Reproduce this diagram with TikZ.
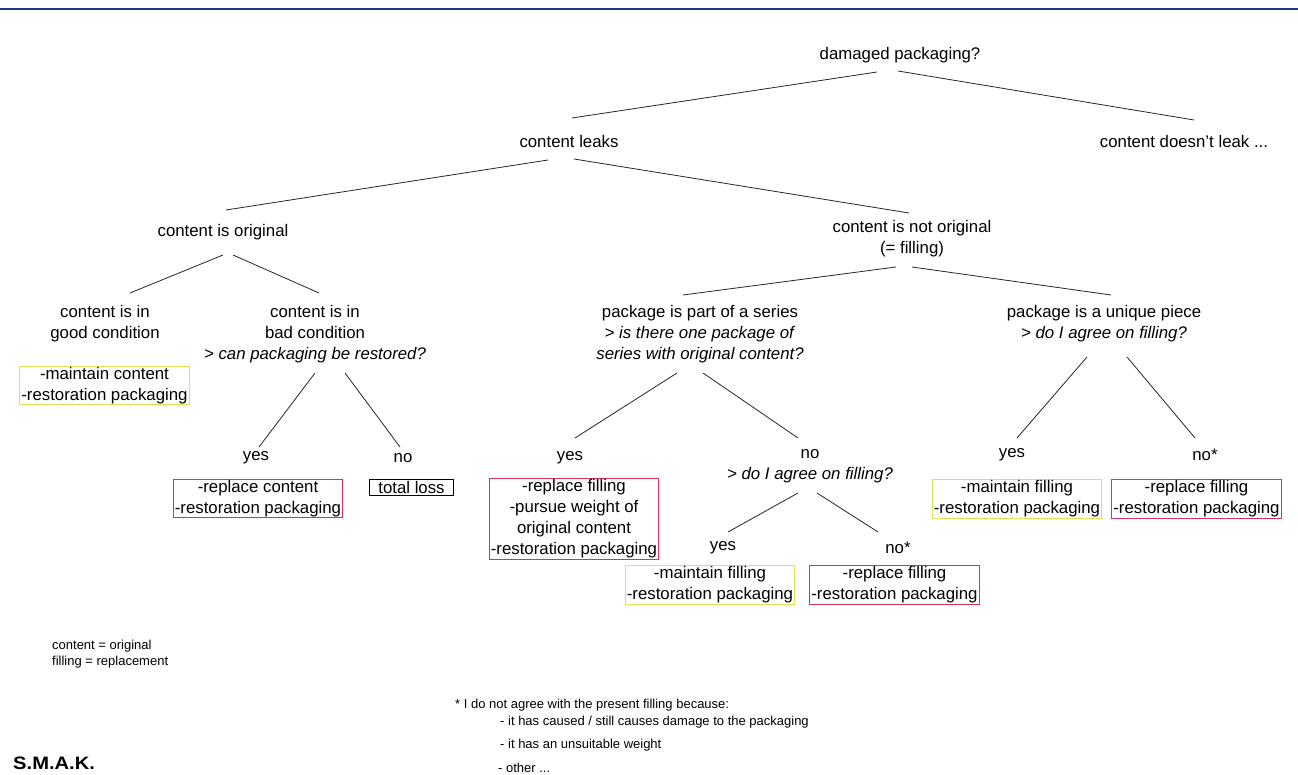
\documentclass[tikz,border=0pt]{standalone}
\usepackage{fontspec}
\setmainfont{Liberation Sans}
\newfontfamily\smakfont[FakeStretch=1.12]{Liberation Sans}
\definecolor{topblue}{RGB}{32,52,135}
\definecolor{keepyellow}{RGB}{226,226,80}
\definecolor{redoline}{RGB}{212,52,92}

\begin{document}
\begin{tikzpicture}[x=1pt,y=-1pt,
    txt/.style={align=center,inner sep=1pt,font=\fontsize{16.8}{21}\selectfont},
    keep/.style={txt,draw=keepyellow,line width=0.9pt,inner xsep=1.5pt},
    redo/.style={txt,draw=redoline,line width=0.9pt,inner xsep=1.5pt},
    lossbox/.style={txt,draw=black,line width=0.9pt,inner xsep=9pt,inner ysep=1.5pt},
    edge/.style={draw=black!85,line width=0.8pt},
    note/.style={anchor=west,align=left,inner sep=0pt,font=\fontsize{13}{16}\selectfont}]

  \useasboundingbox (0,0) rectangle (1298,775);
  \fill[white] (0,0) rectangle (1298,775);
  \draw[topblue,line width=2pt] (0,9) -- (1298,9); % header rule

  % questions
  \node[txt] (dam) at (900,55) {damaged packaging?};
  \node[txt] (leaks) at (569,141) {content leaks};
  \node[txt] (noleak) at (1184,141) {content doesn't leak ...};
  \node[txt] (orig) at (223,232) {content is original};
  \node[txt] (notorig) at (912,238.5) {content is not original\\(= filling)};
  \node[txt] (good) at (105,324) {content is in\\good condition};
  \node[txt] (bad) at (315,334) {content is in\\bad condition\\\textit{> can packaging be restored?}};
  \node[txt] (series) at (700,334) {package is part of a series\\\textit{> is there one package of}\\\textit{series with original content?}};
  \node[txt] (unique) at (1104,324) {package is a unique piece\\\textit{> do I agree on filling?}};

  % answers
  \node[txt] (byes) at (256,458) {yes};
  \node[txt] (bno) at (403,458) {no};
  \node[txt] (syes) at (570,458) {yes};
  \node[txt] (sno) at (810,466) {no\\\textit{> do I agree on filling?}};
  \node[txt] (ayes) at (723,548) {yes};
  \node[txt] (ano) at (898,548) {no*};
  \node[txt] (uyes) at (1012,455) {yes};
  \node[txt] (uno) at (1205,455) {no*};

  % measures
  \node[keep] (keepa) at (104.5,385.5) {-maintain content\\-restoration packaging};
  \node[redo] (repa) at (258,498.5) {-replace content\\-restoration packaging};
  \node[lossbox] (loss) at (411.5,487.5) {total loss};
  \node[redo] (repb) at (574,519) {-replace filling\\-pursue weight of\\original content\\-restoration packaging};
  \node[keep] (keepb) at (710,585) {-maintain filling\\-restoration packaging};
  \node[redo] (repc) at (894.5,585) {-replace filling\\-restoration packaging};
  \node[keep] (keepc) at (1017,499) {-maintain filling\\-restoration packaging};
  \node[redo] (repd) at (1196.5,499) {-replace filling\\-restoration packaging};

  % branches
  \draw[edge] ([shift={(-23,17)}]dam.center) -- ([shift={(3,-23)}]leaks.center);
  \draw[edge] ([shift={(-2,16)}]dam.center) -- ([shift={(10,-21)}]noleak.center);
  \draw[edge] ([shift={(-21,19)}]leaks.center) -- ([shift={(3,-22)}]orig.center);
  \draw[edge] ([shift={(5,18)}]leaks.center) -- ([shift={(-3,-25.5)}]notorig.center);
  \draw[edge] ([shift={(0,23)}]orig.center) -- ([shift={(25,-31)}]good.center);
  \draw[edge] ([shift={(10,23)}]orig.center) -- ([shift={(4,-41)}]bad.center);
  \draw[edge] ([shift={(-16,28.5)}]notorig.center) -- ([shift={(-17,-39)}]series.center);
  \draw[edge] ([shift={(0,28.5)}]notorig.center) -- ([shift={(7,-29)}]unique.center);
  \draw[edge] ([shift={(0,39)}]bad.center) -- ([shift={(3,-11)}]byes.center);
  \draw[edge] ([shift={(30,39)}]bad.center) -- ([shift={(-3,-11)}]bno.center);
  \draw[edge] ([shift={(-23,39)}]series.center) -- ([shift={(5,-20)}]syes.center);
  \draw[edge] ([shift={(3,39)}]series.center) -- ([shift={(-12,-28)}]sno.center);
  \draw[edge] ([shift={(-12,27)}]sno.center) -- ([shift={(5,-16)}]ayes.center);
  \draw[edge] ([shift={(7,27)}]sno.center) -- ([shift={(-20,-16)}]ano.center);
  \draw[edge] ([shift={(-17,33)}]unique.center) -- ([shift={(5,-17)}]uyes.center);
  \draw[edge] ([shift={(23,33)}]unique.center) -- ([shift={(-10,-17)}]uno.center);

  % legend and footnote
  \node[note] (legend) at (52,654) {content = original\\filling = replacement};
  \node[note] (fnhead) at (455,705) {* I do not agree with the present filling because:};
  \node[note] (fna) at (500,722) {- it has caused / still causes damage to the packaging};
  \node[note] (fnb) at (500,745) {- it has an unsuitable weight};
  \node[note] (fnc) at (498,768) {- other ...};
  \node[anchor=west,inner sep=0pt,font=\smakfont\bfseries\fontsize{18}{18}\selectfont] (smak) at (13,763) {S.M.A.K.};
\end{tikzpicture}
\end{document}
